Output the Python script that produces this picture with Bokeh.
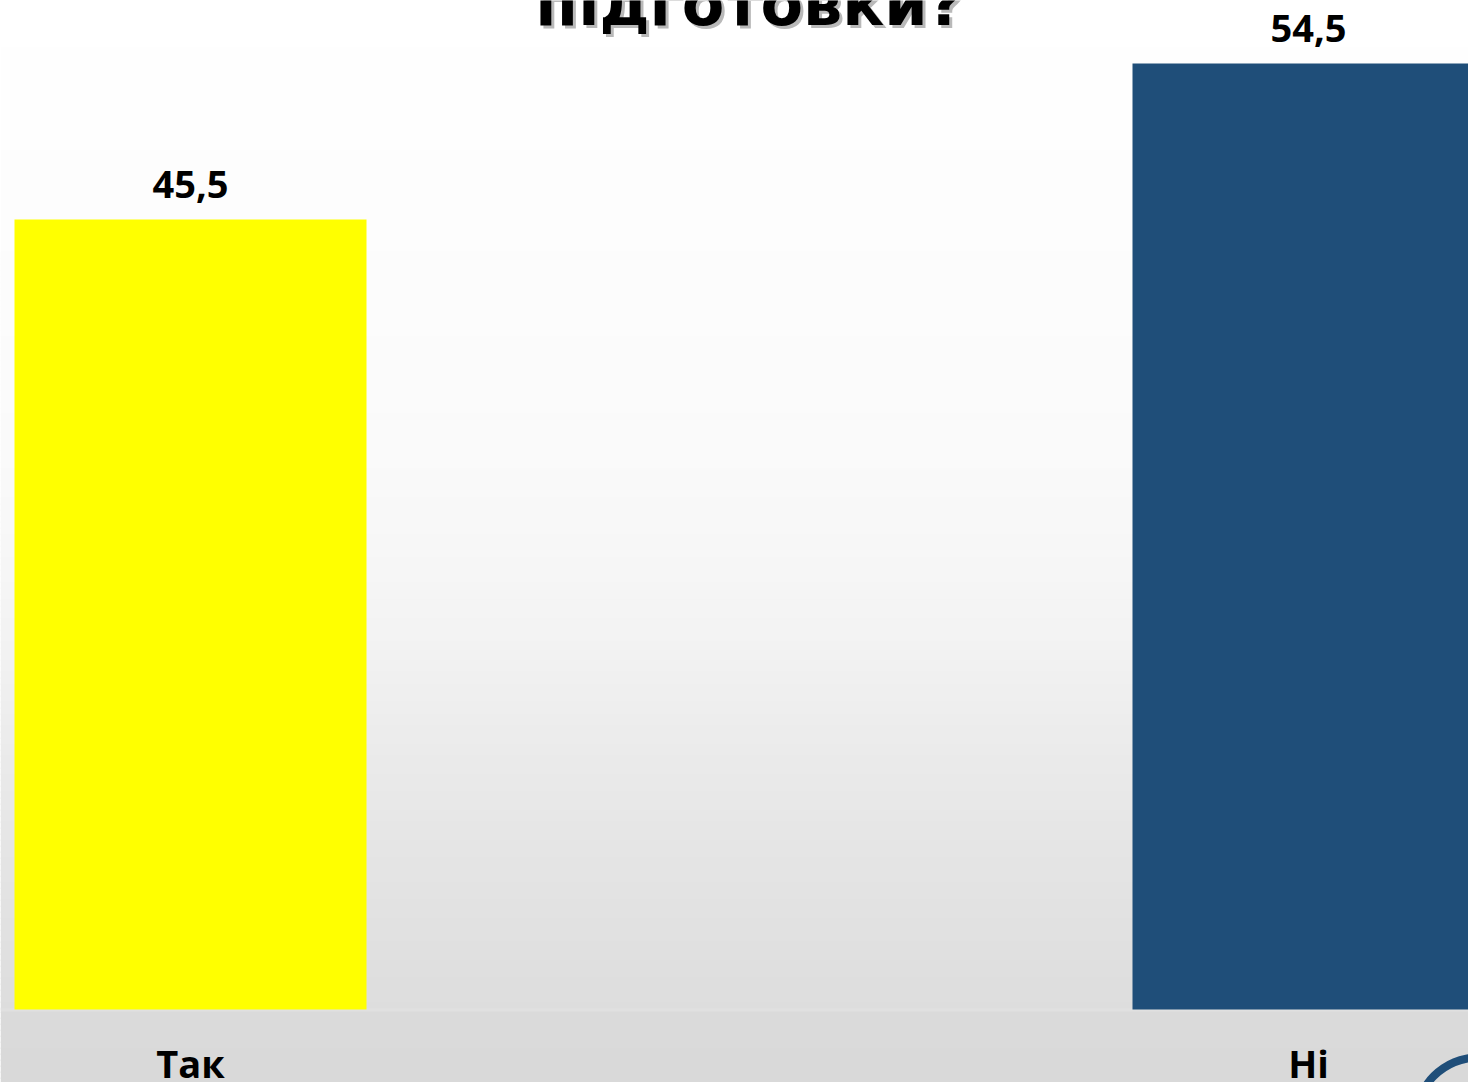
from bokeh.plotting import figure
from bokeh.models import Range1d, BoxAnnotation, Label
from bokeh.core.properties import value
from bokeh.embed import file_html
from bokeh.resources import INLINE

# ---- data ----
categories = ["Так", "Ні"]
values = [45.5, 54.5]
value_labels = ["45,5", "54,5"]
bar_colors = ["#FFFF00", "#1F4E79"]
title_text = "підготовки?"

W, H = 1468, 1082
x_pos = list(range(len(categories)))

PXU = 1118.0     # px per category step
PYU = 17.36      # px per value unit
BASE = 1009      # pixel row of value 0
x_start = -190 / PXU
x_end = x_start + W / PXU
y_end = BASE / PYU
y_start = -(H - BASE) / PYU

p = figure(width=W, height=H, output_backend="svg", toolbar_location=None,
           x_range=Range1d(x_start, x_end), y_range=Range1d(y_start, y_end),
           min_border=0)
p.axis.visible = False
p.grid.visible = False
p.outline_line_color = None
p.background_fill_color = "#ffffff"
p.border_fill_color = "#ffffff"


def py2y(py):
    return (BASE - py) / PYU


def px2x(px):
    return x_start + px / PXU


# background vertical gradient (white -> light grey) as thin bands
stops = [(0, 255), (300, 252), (450, 250), (550, 247), (650, 242), (750, 235),
         (850, 229), (950, 224), (1009, 221), (1010, 229), (1012, 218), (1082, 217)]


def shade(py):
    for (a, ca), (b, cb) in zip(stops[:-1], stops[1:]):
        if a <= py <= b:
            t = (py - a) / (b - a) if b > a else 0
            return int(round(ca + (cb - ca) * t))
    return stops[-1][1]


py = 0
step = 6
while py < H:
    top = py
    bot = min(py + step, H)
    for cut in (1009, 1010, 1012):
        if top < cut < bot:
            bot = cut
    c = shade((top + bot) / 2)
    p.add_layout(BoxAnnotation(top=py2y(top - 1 if top > 0 else top - 5),
                               bottom=py2y(bot + 0.5),
                               fill_color="#%02x%02x%02x" % (c, c, c),
                               fill_alpha=1.0, line_color=None, level="underlay"))
    py = bot

# bars
p.vbar(x=x_pos, top=values, width=352 / PXU, bottom=0, color=bar_colors, line_color=None)

# value labels
p.text(x=x_pos, y=values, text=value_labels, text_align="center",
       text_baseline="alphabetic", y_offset=-35, text_font=value("Open Sans"),
       text_font_style="bold", text_font_size="38px", text_color="#000000")

# category labels
p.text(x=x_pos, y=[0] * len(x_pos), text=categories, text_align="center",
       text_baseline="alphabetic", y_offset=53, text_font=value("Open Sans"),
       text_font_style="bold", text_font_size="38px", text_color="#000000")

# title (cut at top) with shadow
title_x = (x_pos[0] + x_pos[-1]) / 2
p.add_layout(Label(x=title_x, y=y_end, x_offset=3, y_offset=-6, text=title_text,
                   text_align="center", text_baseline="alphabetic",
                   text_font="DejaVu Sans", text_font_style="bold",
                   text_font_size="62px", text_color="#7f7f7f", text_alpha=0.55))
p.add_layout(Label(x=title_x, y=y_end, y_offset=-3, text=title_text,
                   text_align="center", text_baseline="alphabetic",
                   text_font="DejaVu Sans", text_font_style="bold",
                   text_font_size="62px", text_color="#000000"))

# decorative logo ring fragment at the bottom-right corner
p.annulus(x=[px2x(1478)], y=[py2y(1120)], inner_radius=59, outer_radius=67,
          inner_radius_units="screen", outer_radius_units="screen",
          fill_color="#1F4E79", line_color=None)

open("out.html", "w").write(file_html(p, INLINE))
